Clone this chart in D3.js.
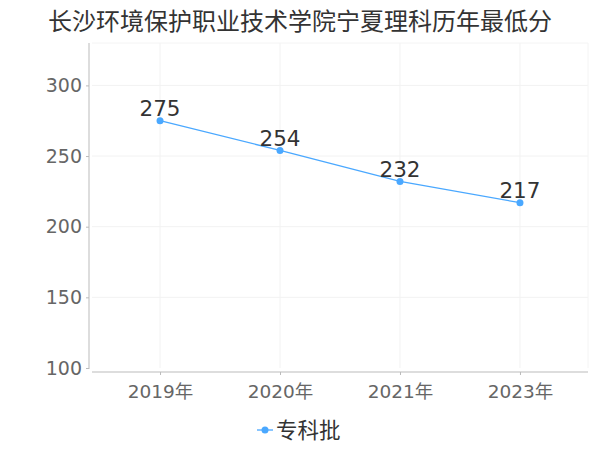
<!DOCTYPE html>
<html><head><meta charset="utf-8">
<script src="https://cdn.jsdelivr.net/npm/d3@7/dist/d3.min.js"></script>
<style>body{margin:0;background:#fff}svg{display:block}text{font-family:"DejaVu Sans","Noto Sans CJK SC",sans-serif}</style>
</head><body><svg id="c" width="600" height="450"></svg>
<script>
const title = "长沙环境保护职业技术学院宁夏理科历年最低分";
const categories = ["2019年","2020年","2021年","2023年"];
const values = [275,254,232,217];
const seriesName = "专科批";
const yTicks = [100,150,200,250,300];

const svg = d3.select("#c");
const color = "#4aa8ff";
const x = d3.scalePoint().domain(categories).range([92,588]).padding(0.567);
const y = d3.scaleLinear().domain([100,330]).range([368,43]);

svg.append("text").attr("x",300).attr("y",30).attr("text-anchor","middle")
  .attr("font-size",24).attr("fill","#333")
  .attr("font-family","'Noto Sans CJK SC',sans-serif").text(title);

// grid
svg.append("g").selectAll("line").data(yTicks.slice(1)).join("line")
  .attr("x1",92).attr("x2",588).attr("y1",d=>y(d)).attr("y2",d=>y(d))
  .attr("stroke","#f2f2f2");
svg.append("g").selectAll("line").data(categories).join("line")
  .attr("x1",d=>x(d)).attr("x2",d=>x(d)).attr("y1",43).attr("y2",368)
  .attr("stroke","#f2f2f2");
svg.append("line").attr("x1",92).attr("x2",588).attr("y1",43).attr("y2",43).attr("stroke","#f4f4f4");
svg.append("line").attr("x1",588).attr("x2",588).attr("y1",43).attr("y2",368).attr("stroke","#f4f4f4");

// y axis
const ya = svg.append("g").attr("transform","translate(89,0)")
  .call(d3.axisLeft(y).tickValues(yTicks).tickSize(3).tickPadding(4));
ya.select(".domain").attr("stroke","#bbb").attr("d","M0,43V369");
ya.selectAll(".tick line").attr("stroke","#bbb");
ya.selectAll(".tick text").attr("fill","#666").attr("font-size",19)
  .attr("font-family","'DejaVu Sans',sans-serif");

// x axis
const xa = svg.append("g").attr("transform","translate(0,372)")
  .call(d3.axisBottom(x).tickSize(3).tickPadding(9));
xa.select(".domain").attr("stroke","#bbb").attr("d","M92,0H588");
xa.selectAll(".tick line").attr("stroke","#bbb");
xa.selectAll(".tick text").attr("fill","#666").attr("font-size",18.5)
  .attr("font-family","'DejaVu Sans','Noto Sans CJK SC',sans-serif")
  .attr("dy","0.75em");

// line
const pts = categories.map((c,i)=>[x(c),y(values[i])]);
svg.append("path").attr("d",d3.line()(pts)).attr("fill","none")
  .attr("stroke",color).attr("stroke-width",1.3);
svg.append("g").selectAll("circle").data(pts).join("circle")
  .attr("cx",d=>d[0]).attr("cy",d=>d[1]).attr("r",3.5).attr("fill",color);
svg.append("g").selectAll("text").data(values).join("text")
  .attr("x",(d,i)=>x(categories[i])).attr("y",d=>y(d)-4.5)
  .attr("text-anchor","middle").attr("font-size",21.5).attr("fill","#333")
  .attr("font-family","'Noto Sans',sans-serif")
  .text(d=>d);

// legend
svg.append("line").attr("x1",257).attr("x2",273).attr("y1",430).attr("y2",430)
  .attr("stroke",color).attr("stroke-width",1.3);
svg.append("circle").attr("cx",265).attr("cy",430).attr("r",3.5).attr("fill",color);
svg.append("text").attr("x",276).attr("y",438).attr("font-size",21.5).attr("fill","#333")
  .attr("font-family","'Noto Sans CJK SC',sans-serif").text(seriesName);
</script></body></html>
